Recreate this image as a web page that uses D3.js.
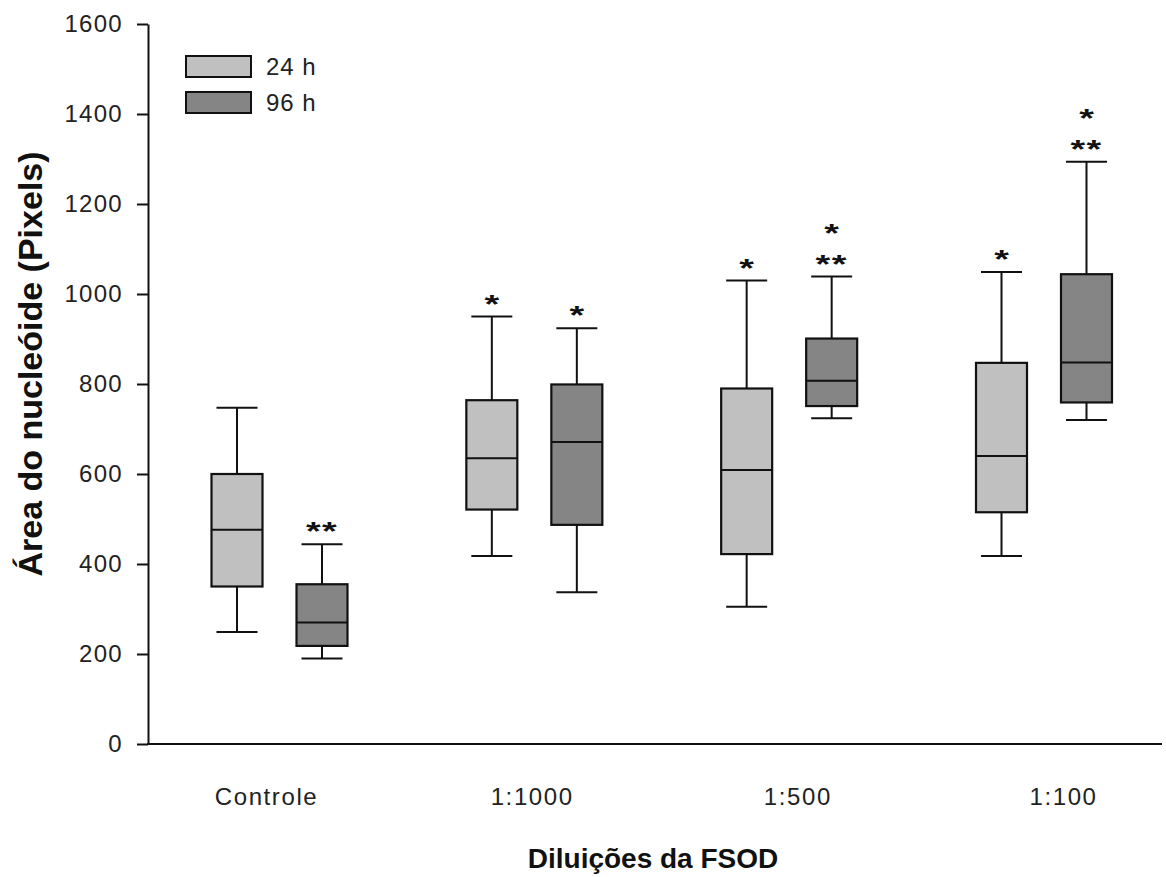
<!DOCTYPE html>
<html>
<head>
<meta charset="utf-8">
<script src="https://cdn.jsdelivr.net/npm/d3@7"></script>
<style>
  body { margin: 0; background: #fff; }
  text { font-family: "Liberation Sans", Arial, sans-serif; }
</style>
</head>
<body>
<div id="draw"></div>
<script>
// dados (boxplot área do nucleóide)
var categories = ["Controle", "1:1000", "1:500", "1:100"];
var series = ["24 h", "96 h"];
var yTicks = [0, 200, 400, 600, 800, 1000, 1200, 1400, 1600];

// 24 h
var low24 = [249, 418, 305, 418];
var q1_24 = [350, 521, 422, 515];
var med24 = [476, 635, 609, 640];
var q3_24 = [600, 764, 790, 847];
var high24 = [747, 950, 1030, 1049];
var marks24 = [[], ["*"], ["*"], ["*"]];

// 96 h
var low96 = [190, 337, 724, 720];
var q1_96 = [218, 487, 751, 759];
var med96 = [270, 671, 807, 848];
var q3_96 = [355, 799, 901, 1044];
var high96 = [444, 924, 1039, 1294];
var marks96 = [["**"], ["*"], ["**", "*"], ["**", "*"]];

var colors = ["#c0c0c0", "#858585"];

window.onload = function(){
    var W = 1166, H = 877;
    var svg = d3.select('#draw').append('svg').attr('width', W).attr('height', H);

    var y = d3.scaleLinear().domain([0, 1600]).range([744, 24]);
    var xGroup = d3.scalePoint().domain(categories).range([279.5, 1044]);
    var xSeries = d3.scalePoint().domain(series).range([-42.5, 42.5]);
    var xLabel = d3.scalePoint().domain(categories).range([266, 1063]);
    var boxW = 51, capW = 41;

    // montar a tabela de caixas
    var boxes = [];
    categories.forEach(function(c, i){
        boxes.push({cat: c, s: series[0], low: low24[i], q1: q1_24[i], med: med24[i], q3: q3_24[i], high: high24[i], marks: marks24[i], color: colors[0]});
        boxes.push({cat: c, s: series[1], low: low96[i], q1: q1_96[i], med: med96[i], q3: q3_96[i], high: high96[i], marks: marks96[i], color: colors[1]});
    });

    // eixo y
    var yAxis = svg.append('g').attr('transform', 'translate(148,0)')
        .call(d3.axisLeft(y).tickValues(yTicks).tickFormat(d3.format('d'))
            .tickSize(11).tickSizeOuter(0).tickPadding(14));
    yAxis.selectAll('path, line').attr('stroke', '#111').attr('stroke-width', 2);
    yAxis.selectAll('text').attr('font-size', 24).attr('fill', '#222')
        .style('letter-spacing', '1.3px').attr('font-family', '"Liberation Sans", Arial, sans-serif');

    // eixo x (linha) e rótulos
    svg.append('line').attr('x1', 147).attr('x2', 1162).attr('y1', y(0)).attr('y2', y(0))
        .attr('stroke', '#111').attr('stroke-width', 2);
    var xAxis = svg.append('g').attr('transform', 'translate(0,' + y(0) + ')')
        .call(d3.axisBottom(xLabel).tickSize(0).tickPadding(44));
    xAxis.select('.domain').remove();
    xAxis.selectAll('text').attr('font-size', 24).attr('fill', '#222')
        .style('letter-spacing', '1.6px').attr('font-family', '"Liberation Sans", Arial, sans-serif');

    // caixas
    var g = svg.selectAll('g.box').data(boxes).enter().append('g').attr('class', 'box')
        .attr('transform', function(d){ return 'translate(' + (xGroup(d.cat) + xSeries(d.s)) + ',0)'; });

    g.append('line').attr('x1', 0).attr('x2', 0)
        .attr('y1', function(d){ return y(d.high); }).attr('y2', function(d){ return y(d.low); })
        .attr('stroke', '#111').attr('stroke-width', 2);
    g.append('line').attr('x1', -capW/2).attr('x2', capW/2)
        .attr('y1', function(d){ return y(d.high); }).attr('y2', function(d){ return y(d.high); })
        .attr('stroke', '#111').attr('stroke-width', 2);
    g.append('line').attr('x1', -capW/2).attr('x2', capW/2)
        .attr('y1', function(d){ return y(d.low); }).attr('y2', function(d){ return y(d.low); })
        .attr('stroke', '#111').attr('stroke-width', 2);
    g.append('rect').attr('x', -boxW/2).attr('width', boxW)
        .attr('y', function(d){ return y(d.q3); })
        .attr('height', function(d){ return y(d.q1) - y(d.q3); })
        .attr('fill', function(d){ return d.color; })
        .attr('stroke', '#111').attr('stroke-width', 2.2);
    g.append('line').attr('x1', -boxW/2).attr('x2', boxW/2)
        .attr('y1', function(d){ return y(d.med); }).attr('y2', function(d){ return y(d.med); })
        .attr('stroke', '#111').attr('stroke-width', 2);

    // asteriscos de significância, empilhados de baixo para cima
    g.selectAll('text.mark').data(function(d){
        return d.marks.map(function(m, k){ return {m: m, k: k, high: d.high}; });
    }).enter().append('text').attr('class', 'mark')
        .attr('transform', function(d){ return 'translate(0,' + (y(d.high) - 18 - 31 * d.k) + ') scale(1.45,1)'; })
        .attr('dy', '0.54em')
        .attr('text-anchor', 'middle')
        .attr('font-family', '"DejaVu Sans", sans-serif')
        .attr('font-size', 26).attr('font-weight', 'bold').attr('fill', '#111')
        .style('letter-spacing', function(d){ return d.m.length > 1 ? '1px' : '0px'; })
        .text(function(d){ return d.m; });

    // legenda
    var leg = svg.selectAll('g.leg').data(series).enter().append('g').attr('class', 'leg')
        .attr('transform', function(d, i){ return 'translate(186,' + (56 + i * 36) + ')'; });
    leg.append('rect').attr('width', 65).attr('height', 21)
        .attr('fill', function(d, i){ return colors[i]; })
        .attr('stroke', '#111').attr('stroke-width', 2);
    leg.append('text').attr('x', 80).attr('y', 19).attr('font-size', 24).attr('fill', '#222')
        .style('letter-spacing', '1px').text(function(d){ return d; });

    // títulos dos eixos
    svg.append('text').attr('transform', 'translate(42,364) rotate(-90)')
        .attr('text-anchor', 'middle').attr('font-size', 34).attr('font-weight', 'bold').attr('fill', '#111')
        .text('Área do nucleóide (Pixels)');
    svg.append('text').attr('x', 653).attr('y', 868)
        .attr('text-anchor', 'middle').attr('font-size', 28).attr('font-weight', 'bold').attr('fill', '#111')
        .text('Diluições da FSOD');
};
</script>
</body>
</html>
